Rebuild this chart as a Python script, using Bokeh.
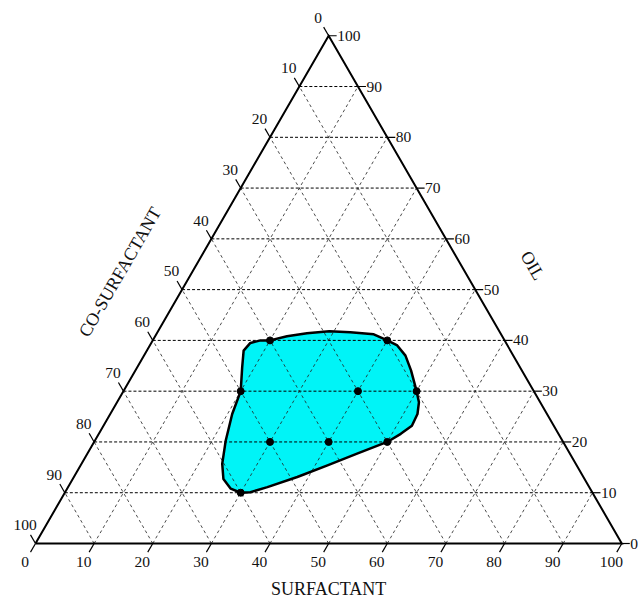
import math
from bokeh.plotting import figure
from bokeh.models import Range1d, ColumnDataSource
from bokeh.core.properties import value
from bokeh.embed import file_html
from bokeh.resources import INLINE

# ---- data -------------------------------------------------------------
# Formulation points (percent): surfactant and oil; co-surfactant is the rest
point_surfactant = [20, 40, 20, 40, 50, 30, 40, 50, 30]
point_oil = [40, 40, 30, 30, 30, 20, 20, 20, 10]

# Outline of the microemulsion region (percent surfactant / oil)
region_surfactant = [20.0, 22.5, 25.6, 29.2, 32.9, 37.1, 40.0, 42.2, 44.6, 47.0,
                     50.0, 51.5, 52.4, 52.6, 51.5, 50.0, 46.0, 42.1, 38.1, 34.0,
                     31.6, 30.0, 27.9, 25.7, 24.0, 22.3, 20.8, 20.0, 17.9, 16.5,
                     16.9, 18.4]
region_oil = [40.0, 40.8, 41.4, 41.8, 41.6, 41.2, 40.0, 39.0, 37.0, 34.1,
              30.0, 27.8, 25.5, 23.2, 21.6, 20.0, 17.7, 15.4, 13.1, 11.1,
              10.1, 10.0, 10.8, 12.7, 15.7, 20.3, 25.5, 30.0, 34.7, 38.0,
              39.5, 40.0]

tick_values = [0, 10, 20, 30, 40, 50, 60, 70, 80, 90, 100]
tick_labels = [str(v) for v in tick_values]
grid_values = tick_values[1:-1]

axis_titles = {"bottom": "SURFACTANT", "left": "CO-SURFACTANT", "right": "OIL"}

# ---- ternary helpers --------------------------------------------------
H = math.sqrt(3) / 2


def tern(s, o):
    """surfactant / oil percentages -> cartesian (x, y)"""
    return s + o / 2.0, o * H


def tern_list(ss, oo):
    xs, ys = [], []
    for s, o in zip(ss, oo):
        x, y = tern(s, o)
        xs.append(x)
        ys.append(y)
    return xs, ys


PX = 5.863          # screen pixels per percent
X0, Y0 = 35, 543    # screen position of the 0/0 corner
W, Hh = 638, 600

p = figure(width=W, height=Hh, output_backend="svg", toolbar_location=None,
           x_range=Range1d(-X0 / PX, (W - X0) / PX),
           y_range=Range1d((Y0 - Hh) / PX, Y0 / PX),
           x_axis_type=None, y_axis_type=None, min_border=0)
p.outline_line_color = None
p.background_fill_color = "white"
p.border_fill_color = "white"

FONT = value("Liberation Serif")
TXT = "#111111"

# ---- region fill --------------------------------------------------------
rx, ry = tern_list(region_surfactant, region_oil)
p.patch(rx, ry, fill_color="#00F4F7", line_color=None)

# ---- dashed grid ------------------------------------------------------
gx, gy = [], []
for k in grid_values:
    # constant oil (horizontal)
    a, b = tern(0, k), tern(100 - k, k)
    p.line([a[0], b[0]], [a[1], b[1]], line_color="#000000", line_width=1,
           line_dash="3 2")
for k in grid_values:
    # constant surfactant
    a, b = tern(k, 0), tern(k, 100 - k)
    gx.append([a[0], b[0]]); gy.append([a[1], b[1]])
    # constant co-surfactant
    a, b = tern(100 - k, 0), tern(0, 100 - k)
    gx.append([a[0], b[0]]); gy.append([a[1], b[1]])
p.multi_line(gx, gy, line_color="#222222", line_width=0.9, line_dash="3 3",
             line_alpha=0.9)

# ---- region outline -----------------------------------------------------
p.line(rx + [rx[0]], ry + [ry[0]], line_color="black", line_width=2.5,
       line_join="round")

# ---- triangle frame -----------------------------------------------------
corners = [tern(0, 0), tern(100, 0), tern(0, 100), tern(0, 0)]
p.line([c[0] for c in corners], [c[1] for c in corners], line_color="black",
       line_width=2, line_join="miter")

# ---- ticks and tick labels ----------------------------------------------
TL = 10 / PX      # tick length
LO = 21 / PX      # label distance
TL_R = 8 / PX     # oil ticks (right side)
LO_R = 8.5 / PX
dirs = {
    "bottom": (-0.5, -H),   # surfactant scale
    "left": (-0.5, H),      # co-surfactant scale
}
tx, ty = [], []
lab = {"x": [], "y": [], "t": [], "align": []}
for v, t in zip(tick_values, tick_labels):
    # surfactant along the bottom
    bx, by = tern(v, 0)
    dx, dy = dirs["bottom"]
    tx.append([bx, bx + dx * TL]); ty.append([by, by + dy * TL])
    lab["x"].append(bx + dx * LO); lab["y"].append(by + dy * LO)
    lab["t"].append(t); lab["align"].append("center")
    # co-surfactant along the left side
    lx, ly = tern(0, 100 - v)
    dx, dy = dirs["left"]
    tx.append([lx, lx + dx * TL]); ty.append([ly, ly + dy * TL])
    lab["x"].append(lx + dx * LO); lab["y"].append(ly + dy * LO)
    lab["t"].append(t); lab["align"].append("center")
    # oil along the right side
    ox, oy = tern(100 - v, v)
    tx.append([ox, ox + TL_R]); ty.append([oy, oy])
    lab["x"].append(ox + LO_R); lab["y"].append(oy)
    lab["t"].append(t); lab["align"].append("left")

p.multi_line(tx, ty, line_color="black", line_width=1.2)
src = ColumnDataSource(lab)
p.text(x="x", y="y", text="t", text_align="align", source=src,
       text_baseline="middle", text_font=FONT, text_font_size="15.5px",
       text_color=TXT)

# ---- axis titles ----------------------------------------------------------
p.text(x=[50.0], y=[-7.8], text=[axis_titles["bottom"]], text_align="center",
       text_baseline="middle", text_font=FONT, text_font_size="18px",
       text_color=TXT)
p.text(x=[14.4], y=[46.3], text=[axis_titles["left"]], angle=math.pi / 3,
       text_align="center", text_baseline="middle", text_font=FONT,
       text_font_size="18px", text_color=TXT)
p.text(x=[84.8], y=[47.4], text=[axis_titles["right"]], angle=-math.pi / 3,
       text_align="center", text_baseline="middle", text_font=FONT,
       text_font_size="18px", text_color=TXT)

# ---- formulation points -----------------------------------------------
px_, py_ = tern_list(point_surfactant, point_oil)
p.scatter(px_, py_, size=7, fill_color="black", line_color="black")

open("out.html", "w").write(file_html(p, INLINE))
